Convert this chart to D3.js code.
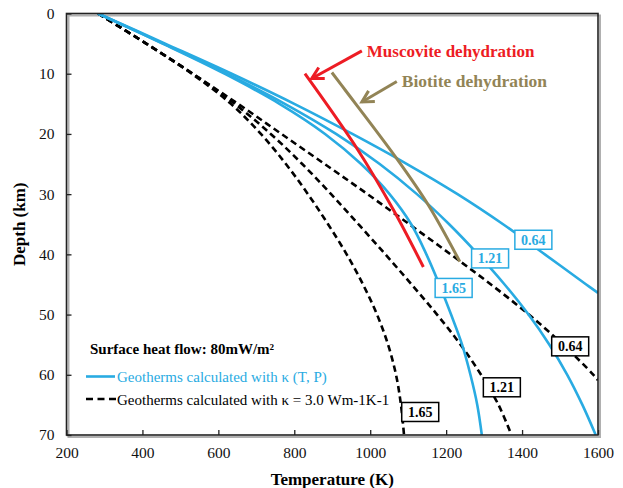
<!DOCTYPE html>
<html>
<head>
<meta charset="utf-8">
<script src="https://cdn.jsdelivr.net/npm/d3@7"></script>
<style>
  html, body { margin: 0; padding: 0; background: #fff; }
  svg { display: block; font-family: "Liberation Serif", "Times New Roman", serif; }
</style>
</head>
<body>
<svg id="chart" width="623" height="488"></svg>
<script>
// Axis ticks
const tempTicks = [200, 400, 600, 800, 1000, 1200, 1400, 1600];
const depthTicks = [0, 10, 20, 30, 40, 50, 60, 70];

// Geotherms with kappa(T, P): [depth km, temperature K]
const tpGeotherm064 = [[0,283],[5,460],[10,635],[15,800],[20,953],[25,1097],[30,1230],[35,1350],[40,1460],[45,1569],[46.4,1600]];
const tpGeotherm121 = [[0,283],[5,455],[10,622],[15,775],[20,910],[25,1025],[30,1123],[35,1208],[40,1284],[45,1354],[50,1417],[55,1472],[60,1519],[65,1559],[70,1594]];
const tpGeotherm165 = [[0,283],[5,453],[10,616],[15,761],[20,881],[25,976],[30,1051],[35,1108],[40,1148],[45,1182],[50,1213],[55,1242],[60,1264],[65,1282],[70,1294]];

// Geotherms with constant kappa = 3.0 Wm-1K-1: [depth km, temperature K]
const constGeotherm064 = [[0,283],[5,410],[10,532],[15,652],[20,766],[25,880],[30,993],[35,1103],[40,1212],[45,1318],[50,1418],[55,1508],[60,1588],[60.9,1600]];
const constGeotherm121 = [[0,283],[5,410],[10,533],[15,643],[20,738],[25,821],[30,897],[35,969],[40,1040],[45,1109],[50,1176],[55,1238],[60,1292],[65,1338],[70,1372]];
const constGeotherm165 = [[0,283],[5,410],[10,530],[15,633],[20,712],[25,778],[30,836],[35,889],[40,938],[45,981],[50,1018],[55,1047],[60,1068],[65,1081],[70,1089]];

// Dehydration curves: [depth km, temperature K]
const muscoviteCurve = [[10,828],[22.7,968],[32.6,1061],[42.1,1140]];
const biotiteCurve = [[9.8,899],[12.7,934],[24.1,1070],[31.8,1153],[41.2,1236]];

// Heat-production labels: text, box corner [temperature K, depth km]
const tpLabels = [["0.64", 1381, 36.0], ["1.21", 1267, 39.1], ["1.65", 1171, 44.0]];
const constLabels = [["0.64", 1478, 53.7], ["1.21", 1298, 60.5], ["1.65", 1083, 64.6]];

const BLUE = "#29abe2", RED = "#ed1c24", OLIVE = "#928456";

const svg = d3.select("#chart");
const M = { left: 66.5, top: 13.5, right: 598, bottom: 435 };

const x = d3.scaleLinear().domain([200, 1600]).range([M.left, M.right]);
const y = d3.scaleLinear().domain([0, 70]).range([M.top, M.bottom]);

// frame shadow
svg.append("rect")
  .attr("x", M.left + 2).attr("y", M.top + 2)
  .attr("width", M.right - M.left).attr("height", M.bottom - M.top)
  .attr("fill", "none").attr("stroke", "#b0b0b0").attr("stroke-width", 2);

svg.append("defs").append("clipPath").attr("id", "plotClip")
  .append("rect").attr("x", M.left).attr("y", M.top)
  .attr("width", M.right - M.left).attr("height", M.bottom - M.top);

const plot = svg.append("g").attr("clip-path", "url(#plotClip)");

const line = d3.line()
  .x(d => x(d[1]))
  .y(d => y(d[0]))
  .curve(d3.curveCatmullRom.alpha(0.5));

// constant-kappa geotherms (dashed)
[constGeotherm064, constGeotherm121, constGeotherm165].forEach(s => {
  plot.append("path").datum(s).attr("d", line)
    .attr("fill", "none").attr("stroke", "#000").attr("stroke-width", 2.6)
    .attr("stroke-dasharray", "6.5,4");
});

// kappa(T,P) geotherms
[tpGeotherm064, tpGeotherm121, tpGeotherm165].forEach(s => {
  plot.append("path").datum(s).attr("d", line)
    .attr("fill", "none").attr("stroke", BLUE).attr("stroke-width", 2.6);
});

// dehydration curves
plot.append("path").datum(muscoviteCurve).attr("d", line)
  .attr("fill", "none").attr("stroke", RED).attr("stroke-width", 3);
plot.append("path").datum(biotiteCurve).attr("d", line)
  .attr("fill", "none").attr("stroke", OLIVE).attr("stroke-width", 3);

// labelled boxes on the geotherms
function drawLabels(list, color) {
  list.forEach(([txt, t, d]) => {
    const g = svg.append("g").attr("transform", `translate(${x(t)},${y(d)})`);
    g.append("rect").attr("width", 37).attr("height", 19)
      .attr("fill", "#fff").attr("stroke", color).attr("stroke-width", 1.5);
    g.append("text").attr("x", 18.5).attr("y", 14.5)
      .attr("text-anchor", "middle").attr("font-size", 14).attr("font-weight", "bold")
      .attr("fill", color).text(txt);
  });
}
drawLabels(tpLabels, BLUE);
drawLabels(constLabels, "#000");

// arrows with open heads
function arrow(t0, d0, t1, d1, color) {
  const x0 = x(t0), y0 = y(d0), x1 = x(t1), y1 = y(d1);
  const a = Math.atan2(y1 - y0, x1 - x0);
  const L = 13, w = 0.5;
  const g = svg.append("g").attr("stroke", color).attr("stroke-width", 3)
    .attr("fill", "none").attr("stroke-linecap", "butt");
  g.append("line").attr("x1", x0).attr("y1", y0).attr("x2", x1).attr("y2", y1);
  g.append("path").attr("d",
    `M${x1 - L * Math.cos(a - w)},${y1 - L * Math.sin(a - w)}L${x1},${y1}L${x1 - L * Math.cos(a + w)},${y1 - L * Math.sin(a + w)}`);
}
arrow(978, 6.2, 846, 10.8, RED);
arrow(1070, 11.3, 978, 14.7, OLIVE);

svg.append("text").attr("x", x(991)).attr("y", y(7.2))
  .attr("font-size", 17).attr("font-weight", "bold").attr("fill", RED)
  .text("Muscovite dehydration");
svg.append("text").attr("x", x(1083)).attr("y", y(12.2))
  .attr("font-size", 17.5).attr("font-weight", "bold").attr("fill", OLIVE)
  .text("Biotite dehydration");

// frame
svg.append("rect")
  .attr("x", M.left).attr("y", M.top)
  .attr("width", M.right - M.left).attr("height", M.bottom - M.top)
  .attr("fill", "none").attr("stroke", "#222").attr("stroke-width", 1.6);

// axes with inward ticks
const xAxis = svg.append("g").attr("transform", `translate(0,${M.bottom})`)
  .call(d3.axisBottom(x).tickValues(tempTicks).tickFormat(d3.format("d"))
    .tickSizeInner(-5).tickSizeOuter(0).tickPadding(12));
const yAxis = svg.append("g").attr("transform", `translate(${M.left},0)`)
  .call(d3.axisLeft(y).tickValues(depthTicks).tickFormat(d3.format("d"))
    .tickSizeInner(-5).tickSizeOuter(0).tickPadding(12));
[xAxis, yAxis].forEach(ax => {
  ax.select(".domain").remove();
  ax.selectAll(".tick line").attr("stroke", "#222").attr("stroke-width", 1.3);
  ax.selectAll(".tick text").attr("font-size", 15.5).attr("fill", "#111")
    .attr("font-family", "Liberation Serif, Times New Roman, serif");
});

svg.append("text").attr("x", (M.left + M.right) / 2).attr("y", 485)
  .attr("text-anchor", "middle").attr("font-size", 17).attr("font-weight", "bold")
  .text("Temperature (K)");
svg.append("text").attr("transform", `translate(25,${(M.top + M.bottom) / 2}) rotate(-90)`)
  .attr("text-anchor", "middle").attr("font-size", 17).attr("font-weight", "bold")
  .text("Depth (km)");

// legend
const lg = svg.append("g");
lg.append("text").attr("x", 90).attr("y", 354).attr("font-size", 15).attr("font-weight", "bold")
  .text("Surface heat flow: 80mW/m²");
lg.append("line").attr("x1", 86).attr("x2", 115).attr("y1", 376.5).attr("y2", 376.5)
  .attr("stroke", BLUE).attr("stroke-width", 2.6);
lg.append("text").attr("x", 117).attr("y", 382).attr("font-size", 15).attr("fill", BLUE)
  .text("Geotherms calculated with κ (T, P)");
lg.append("line").attr("x1", 86).attr("x2", 116).attr("y1", 399).attr("y2", 399)
  .attr("stroke", "#000").attr("stroke-width", 2.6).attr("stroke-dasharray", "7,4.5");
lg.append("text").attr("x", 117).attr("y", 404.5).attr("font-size", 15).attr("fill", "#000")
  .text("Geotherms calculated with κ = 3.0 Wm-1K-1");
</script>
</body>
</html>
